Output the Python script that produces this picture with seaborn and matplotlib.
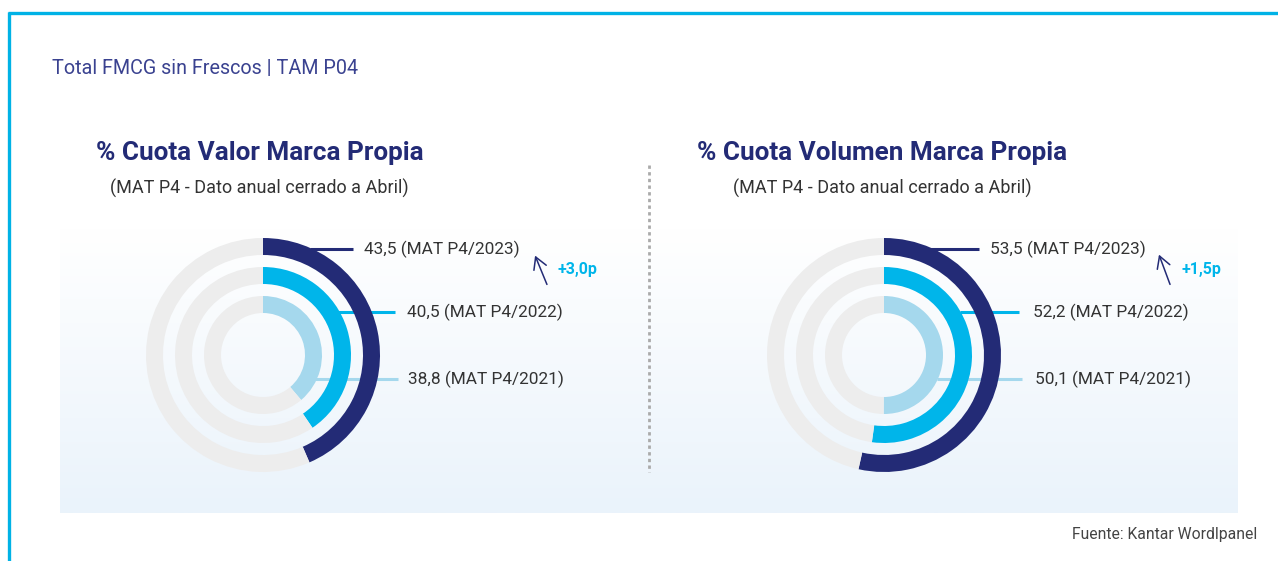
import numpy as np
import matplotlib.pyplot as plt
from matplotlib.colors import LinearSegmentedColormap
import seaborn as sns

# datos
periodos = ["MAT P4/2021", "MAT P4/2022", "MAT P4/2023"]
cuota_valor = [38.8, 40.5, 43.5]
cuota_volumen = [50.1, 52.2, 53.5]
variacion = ["+3,0p", "+1,5p"]
titulos = ["% Cuota Valor Marca Propia", "% Cuota Volumen Marca Propia"]
subtitulo = "(MAT P4 - Dato anual cerrado a Abril)"

sns.set_theme(style="white")
plt.rcParams['font.family'] = ['Roboto', 'DejaVu Sans']

NAVY = "#232B76"
CYAN = "#00B5EA"
LIGHT = "#A5D8ED"
GRAY_RING = "#EDEDED"
TXT = "#333333"
ring_colors = [LIGHT, CYAN, NAVY]

W, H = 1278, 561
fig = plt.figure(figsize=(W / 100, H / 100), dpi=100)
ax = fig.add_axes([0, 0, 1, 1])
ax.set_xlim(0, W)
ax.set_ylim(H, 0)
ax.axis("off")

# marco cian
ax.plot([8, W], [13, 13], color="#00B2E6", lw=2.4, solid_capstyle="butt")
ax.plot([9, 9], [12, H], color="#00B2E6", lw=2.4, solid_capstyle="butt")

# panel con degradado
cmap = LinearSegmentedColormap.from_list("panel", ["#FFFFFF", "#EAF3FB"])
grad = np.linspace(0, 1, 200).reshape(-1, 1)
ax.imshow(grad, cmap=cmap, extent=[60, 1238, 513, 228], aspect="auto", zorder=0)
ax.set_xlim(0, W)
ax.set_ylim(H, 0)

ax.text(52, 68, "Total FMCG sin Frescos | TAM P04", fontsize=14.2, color="#3A4290",
        va="center", ha="left")
ax.text(1257, 535, "Fuente: Kantar Wordlpanel", fontsize=11.3, color="#444444",
        va="center", ha="right")

# separador
ax.plot([649, 649], [165, 472], color="#AAAAAA", lw=2, ls=(0, (1.2, 1.2)))

centers = [(263, 355), (884, 355)]
title_x = [96, 697]
sub_x = [110, 733]
radii = [59, 88, 117]
width = 17

# posiciones de etiquetas (izq, der)
label_pos = [
    [(315, 379, 398, 408), (338, 312, 395, 407), (310, 249, 353, 364)],
    [(937, 379, 1022, 1035), (960, 312, 1019, 1033), (930, 249, 979, 990)],
]
arrows = [((548, 287), (534, 253), (557, 269)), ((1171, 287), (1158, 252), (1181, 269))]

for k, vals in enumerate([cuota_valor, cuota_volumen]):
    cx, cy = centers[k]
    ax.text(title_x[k], 153, titulos[k], fontsize=18.8, fontweight="bold", color=NAVY,
            va="center", ha="left")
    ax.text(sub_x[k], 188, subtitulo, fontsize=13, color=TXT, va="center", ha="left")

    for i, v in enumerate(vals):
        x0, y0, x1, tx = label_pos[k][i]
        ax.plot([x0, x1], [y0, y0], color=ring_colors[i], lw=2.2, zorder=1,
                solid_capstyle="butt")
        ax.text(tx, y0, f"{v:.1f}".replace(".", ",") + f" ({periodos[i]})",
                fontsize=12.4, color=TXT, va="center", ha="left")

    (ax0, ay0), (ax1, ay1), (lx, ly) = arrows[k]
    ax.annotate("", xy=(ax1, ay1), xytext=(ax0, ay0),
                arrowprops=dict(arrowstyle="->,head_length=0.7,head_width=0.4",
                                color=NAVY, lw=1.1))
    ax.text(lx, ly, variacion[k], fontsize=11.5, fontweight="bold", color=CYAN,
            va="center", ha="left")

    # anillos
    half = 122
    dax = fig.add_axes([(cx - half) / W, (H - cy - half) / H, 2 * half / W, 2 * half / H])
    dax.set_zorder(2)
    dax.patch.set_alpha(0)
    for i, v in enumerate(vals):
        dax.pie([v, 100 - v], colors=[ring_colors[i], GRAY_RING], radius=radii[i],
                startangle=90, counterclock=False,
                wedgeprops=dict(width=width, linewidth=0))
    dax.set_xlim(-half, half)
    dax.set_ylim(-half, half)
    dax.set_aspect("auto")
    dax.axis("off")

fig.savefig("out.png", dpi=100)
